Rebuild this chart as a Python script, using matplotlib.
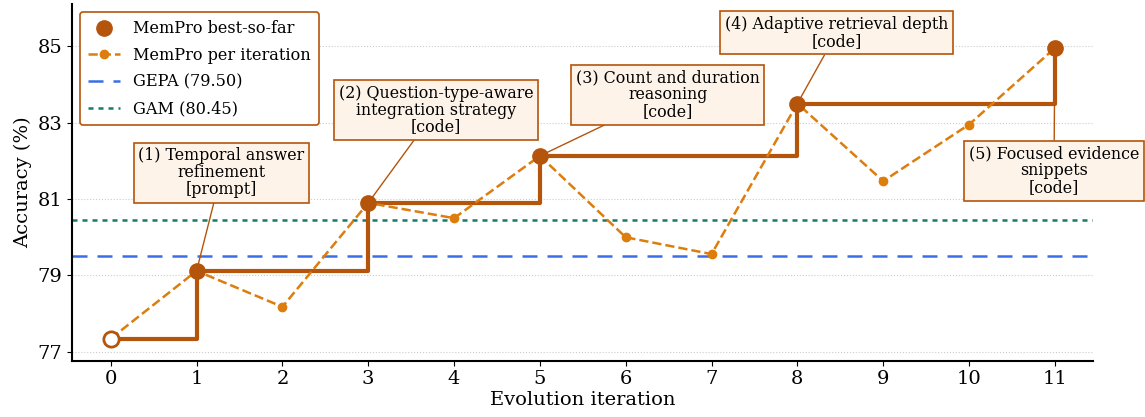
import numpy as np
import matplotlib
matplotlib.use("Agg")
import matplotlib.pyplot as plt

plt.rcParams['font.family'] = 'DejaVu Serif'

iterations = np.arange(12)
per_iter = [77.35, 79.12, 78.18, 80.9, 80.5, 82.13, 80.0, 79.56, 83.5, 81.47, 82.95, 84.95]
gepa = 79.50
gam = 80.45
notes = ["(1) Temporal answer\nrefinement\n[prompt]",
         "(2) Question-type-aware\nintegration strategy\n[code]",
         "(3) Count and duration\nreasoning\n[code]",
         "(4) Adaptive retrieval depth\n[code]",
         "(5) Focused evidence\nsnippets\n[code]"]
note_iters = [1, 3, 5, 8, 11]
note_pos = [(1.29, 81.69), (3.79, 83.33), (6.49, 83.73), (8.46, 85.35), (10.99, 81.74)]

dark = '#b5540b'
light = '#dc7d0e'

best = np.maximum.accumulate(per_iter)

fig, ax = plt.subplots(figsize=(11.45, 4.17), dpi=100)

ax.axhline(gepa, color='#3a6ee8', ls=(0, (6, 4)), lw=1.8, label='GEPA (79.50)', zorder=1)
ax.axhline(gam, color='#177a6a', ls=(0, (2, 2)), lw=1.8, label='GAM (80.45)', zorder=1)

ax.step(iterations, best, where='post', color=dark, lw=3, zorder=3)
ax.plot(iterations, per_iter, color=light, ls='--', lw=1.8, marker='o', ms=6,
        label='MemPro per iteration', zorder=4)
ax.plot(note_iters, [per_iter[i] for i in note_iters], 'o', color=dark, ms=11,
        ls='none', label='MemPro best-so-far', zorder=5)
ax.plot([0], [per_iter[0]], 'o', mfc='white', mec=dark, mew=2, ms=11, zorder=5)

for txt, i, (tx, ty) in zip(notes, note_iters, note_pos):
    ax.annotate(txt, xy=(i, per_iter[i]), xytext=(tx, ty), ha='center', va='center',
                fontsize=11.4, linespacing=0.98,
                bbox=dict(boxstyle='square,pad=0.3', fc='#fdf3e9', ec=dark, lw=1.2),
                arrowprops=dict(arrowstyle='-', color=dark, lw=1, shrinkA=0, shrinkB=0),
                zorder=6)

ax.set_xlim(-0.45, 11.45)
ax.set_ylim(76.77, 86.1)
ax.set_xticks(iterations)
ax.set_yticks([77, 79, 81, 83, 85])
ax.tick_params(labelsize=14)
ax.set_xlabel('Evolution iteration', fontsize=14, labelpad=2)
ax.set_ylabel('Accuracy (%)', fontsize=14)
ax.grid(axis='y', ls=':', color='#cccccc', lw=0.8)
ax.spines['top'].set_visible(False)
ax.spines['right'].set_visible(False)
ax.spines['left'].set_linewidth(1.5)
ax.spines['bottom'].set_linewidth(1.5)

h, l = ax.get_legend_handles_labels()
order = [3, 2, 0, 1]
leg = ax.legend([h[k] for k in order], [l[k] for k in order], loc='upper left',
                fontsize=11.6, frameon=True, fancybox=True, borderpad=0.5,
                labelspacing=0.6, bbox_to_anchor=(0.0, 1.0))
leg.get_frame().set_edgecolor(dark)
leg.get_frame().set_linewidth(1.2)
leg.get_frame().set_alpha(1)

fig.subplots_adjust(left=0.063, right=0.955, top=0.99, bottom=0.135)
fig.savefig('out.png', dpi=100)
